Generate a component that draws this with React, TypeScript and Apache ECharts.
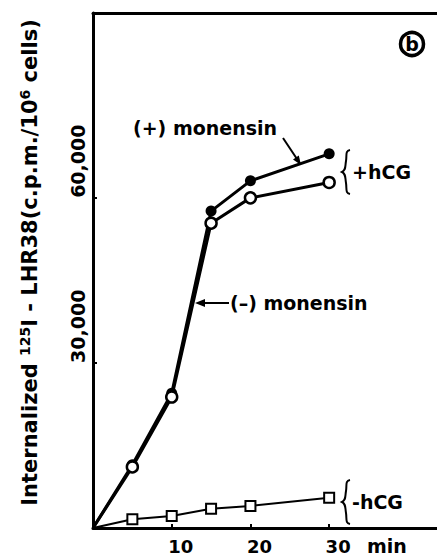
import React, { useEffect, useRef } from "react";
import * as echarts from "echarts";

const times = [0, 5, 10, 15, 20, 30];
const plusMonensin = [0, 11500, 24500, 57600, 63100, 68000];
const minusMonensin = [0, 11100, 23800, 55400, 60000, 62800];
const minusHcg = [0, 1600, 2200, 3500, 4000, 5500];
const xTicks = [10, 20, 30];
const yTicks = [30000, 60000];

const FONT = "DejaVu Sans";

echarts.graphic.registerShape(
  "brace",
  echarts.graphic.extendPath(
    "M8,0 C3,1 5,5 4,11 C3,17 4,20 0,22 C4,24 3,27 4,33 C5,39 3,43 8,44",
    {}
  )
);

function build(ys: number[]) {
  return times.map((t, i) =>
    i === 0 ? { value: [t, ys[i]], symbol: "none" } : { value: [t, ys[i]] }
  );
}

export default function App() {
  const ref = useRef<HTMLDivElement>(null);
  useEffect(() => {
    const chart = echarts.init(ref.current!, null, { renderer: "svg" });
    const txt = (text: string, x: number, y: number, size = 19, align = "left") => ({
      type: "text",
      style: {
        text,
        x,
        y,
        fill: "#000",
        fontFamily: FONT,
        fontWeight: "bold",
        fontSize: size,
        align,
        verticalAlign: "middle",
      },
      z: 10,
    });
    chart.setOption({
      animation: false,
      backgroundColor: "#fff",
      grid: { left: 93, right: 0, top: 13, bottom: 31 },
      xAxis: [
        {
          type: "value",
          min: 0,
          max: 43.7,
          axisLine: { lineStyle: { color: "#000", width: 3 } },
          axisTick: { inside: true, length: 4, customValues: xTicks, lineStyle: { color: "#000", width: 2 } },
          axisLabel: {
            customValues: xTicks,
            color: "#000",
            fontFamily: FONT,
            fontWeight: "bold",
            fontSize: 18,
            margin: 9,
            padding: [0, 0, 0, 18],
          },
          splitLine: { show: false },
        },
        {
          type: "value",
          position: "top",
          min: 0,
          max: 43.7,
          axisLine: { show: true, lineStyle: { color: "#000", width: 3 } },
          axisTick: { show: false },
          axisLabel: { show: false },
          splitLine: { show: false },
        },
      ],
      yAxis: {
        type: "value",
        min: 0,
        max: 93600,
        axisLine: { show: true, lineStyle: { color: "#000", width: 3 } },
        axisTick: { inside: true, length: 4, customValues: yTicks, lineStyle: { color: "#000", width: 2 } },
        axisLabel: {
          customValues: yTicks,
          rotate: 90,
          align: "left",
          verticalAlign: "bottom",
          margin: 6,
          color: "#000",
          fontFamily: FONT,
          fontWeight: "bold",
          fontSize: 19,
          formatter: (v: number) => v.toLocaleString("en-US"),
        },
        splitLine: { show: false },
        name: "{n|Internalized }{s|125}{n|I - LHR38(c.p.m./10}{s|6}{n| cells)}",
        nameLocation: "middle",
        nameRotate: 90,
        nameGap: 52,
        nameTextStyle: {
          padding: [0, 0, 0, 16],
          rich: {
            n: { fontFamily: FONT, fontWeight: "bold", fontSize: 21, color: "#000", lineHeight: 23 },
            s: {
              fontFamily: FONT,
              fontWeight: "bold",
              fontSize: 14,
              color: "#000",
              lineHeight: 15,
              verticalAlign: "top",
              padding: [0, 0, 8, 0],
            },
          },
        },
      },
      series: [
        {
          type: "line",
          data: build(plusMonensin),
          symbol: "circle",
          symbolSize: 11,
          lineStyle: { color: "#000", width: 3 },
          itemStyle: { color: "#000", borderColor: "#000", borderWidth: 0 },
          z: 2,
        },
        {
          type: "line",
          data: build(minusMonensin),
          symbol: "circle",
          symbolSize: 11,
          lineStyle: { color: "#000", width: 3 },
          itemStyle: { color: "#fff", borderColor: "#000", borderWidth: 2.5 },
          z: 3,
        },
        {
          type: "line",
          data: build(minusHcg),
          symbol: "rect",
          symbolSize: 10,
          lineStyle: { color: "#000", width: 2 },
          itemStyle: { color: "#fff", borderColor: "#000", borderWidth: 2 },
          z: 3,
        },
      ],
      graphic: [
        txt("(+) monensin", 133, 128),
        { type: "line", shape: { x1: 283, y1: 138, x2: 297, y2: 159 }, style: { stroke: "#000", lineWidth: 2 } },
        { type: "polygon", shape: { points: [[301, 165], [293, 159.5], [298.8, 155.6]] }, style: { fill: "#000" } },
        txt("(–) monensin", 230, 303),
        { type: "line", shape: { x1: 229, y1: 303, x2: 203, y2: 303 }, style: { stroke: "#000", lineWidth: 2 } },
        { type: "polygon", shape: { points: [[195, 303], [205, 299], [205, 307]] }, style: { fill: "#000" } },
        { type: "brace", x: 342, y: 150, style: { stroke: "#000", lineWidth: 2, fill: null } },
        txt("+hCG", 352, 172),
        { type: "brace", x: 342, y: 480, style: { stroke: "#000", lineWidth: 2, fill: null } },
        txt("-hCG", 352, 502),
        txt("min", 367, 546),
        { type: "circle", shape: { cx: 412, cy: 44, r: 11.5 }, style: { stroke: "#000", lineWidth: 3.5, fill: "none" } },
        txt("b", 412, 44, 19, "center"),
      ],
    });
    return () => chart.dispose();
  }, []);
  return (
    <div
      ref={ref}
      style={{ position: "fixed", left: 0, top: 0, width: 437, height: 559, background: "#fff" }}
    />
  );
}
